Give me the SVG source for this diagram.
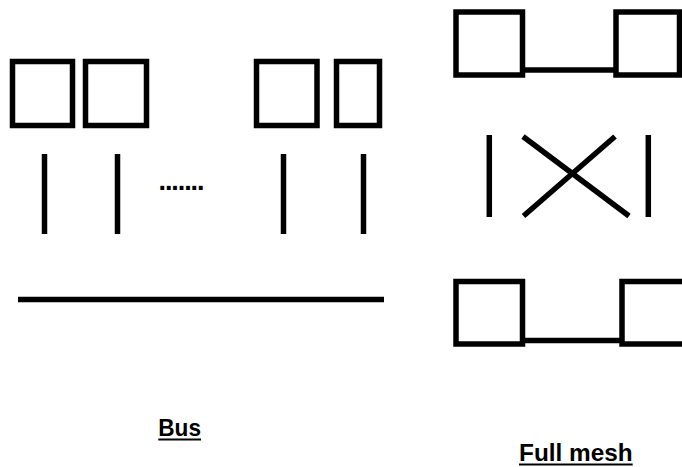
<svg xmlns="http://www.w3.org/2000/svg" width="682" height="467" viewBox="0 0 682 467">
<style>
.box{fill:none;stroke:#000;stroke-width:5.5}
.ln{stroke:#000;stroke-width:5.5;fill:none}
.ul{stroke:#000;stroke-width:2}
.lbl{font-family:"Liberation Sans",Arial,sans-serif;font-weight:bold;font-size:24px;fill:#000}
</style>
<rect width="682" height="467" fill="#fff"/>
<g id="bus-node-1"><rect class="box" x="12.5" y="61.5" width="60" height="64"/></g>
<g id="bus-node-2"><rect class="box" x="85.5" y="61.5" width="61" height="64"/></g>
<g id="bus-node-3"><rect class="box" x="256.5" y="61.5" width="60.5" height="64"/></g>
<g id="bus-node-4"><rect class="box" x="336.5" y="61.5" width="43" height="64"/></g>
<g id="mesh-node-tl"><rect class="box" x="456" y="12" width="66.5" height="63"/></g>
<g id="mesh-node-tr"><rect class="box" x="616" y="12" width="63.5" height="63"/></g>
<g id="mesh-node-bl"><rect class="box" x="456" y="281.5" width="66.5" height="62.5"/></g>
<g id="mesh-node-br"><rect class="box" x="622" y="281.5" width="80" height="62.5"/></g>
<g id="connectors">
<line class="ln" x1="44.5" y1="154" x2="44.5" y2="234"/>
<line class="ln" x1="117.5" y1="154" x2="117.5" y2="234"/>
<line class="ln" x1="283.5" y1="154" x2="283.5" y2="234"/>
<line class="ln" x1="363.5" y1="154" x2="363.5" y2="234"/>
<line class="ln" x1="18" y1="299.5" x2="384" y2="299.5"/>
<line class="ln" x1="525" y1="70" x2="614" y2="70"/>
<line class="ln" x1="525" y1="340.5" x2="620" y2="340.5"/>
<line class="ln" x1="489.3" y1="135" x2="489.3" y2="217"/>
<line class="ln" x1="648.3" y1="135" x2="648.3" y2="217"/>
<line class="ln" x1="523" y1="136.5" x2="629" y2="216"/>
<line class="ln" x1="615" y1="136.5" x2="523.5" y2="216"/>
</g>
<text class="lbl" x="158.5" y="189.5" style="font-size:27px" textLength="46" lengthAdjust="spacing">.......</text>
<g id="label-bus">
<text class="lbl" x="158.3" y="435.7" textLength="42.7" lengthAdjust="spacingAndGlyphs">Bus</text>
<line class="ul" x1="158.3" y1="439.5" x2="201" y2="439.5"/>
</g>
<g id="label-mesh">
<text class="lbl" x="519" y="461" textLength="113.7" lengthAdjust="spacingAndGlyphs">Full mesh</text>
<line class="ul" x1="519" y1="464.5" x2="632.7" y2="464.5"/>
</g>
</svg>
